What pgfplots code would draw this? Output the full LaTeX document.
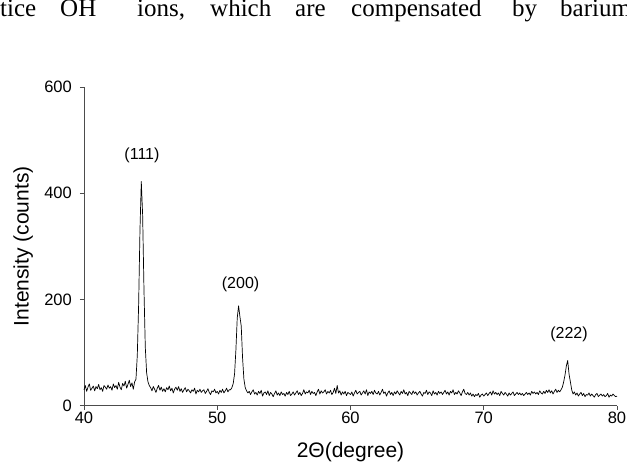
\documentclass[border=0pt]{standalone}
\usepackage{pgfplots}
\pgfplotsset{compat=1.18}
\usepackage{pgfplotstable}
\usepackage{fontspec}
\setmainfont{Liberation Sans}
\newfontfamily\seriffont{Liberation Serif}

\pgfplotstableread{
x y
40.0 30
40.1 38
40.2 27
40.3 35
40.4 41
40.5 29
40.6 33
40.7 37
40.8 28
40.9 36
41.0 32
41.1 40
41.2 30
41.3 34
41.4 27
41.5 38
41.6 35
41.7 31
41.8 39
41.9 33
42.0 36
42.1 29
42.2 41
42.3 34
42.4 38
42.5 31
42.6 44
42.7 35
42.8 30
42.9 42
43.0 37
43.1 46
43.2 33
43.3 40
43.4 48
43.5 36
43.6 43
43.7 31
43.8 45
43.9 50
44.0 95
44.1 190
44.2 330
44.3 422
44.4 360
44.5 220
44.6 110
44.7 62
44.8 45
44.9 38
45.0 34
45.1 28
45.2 36
45.3 31
45.4 25
45.5 33
45.6 38
45.7 29
45.8 35
45.9 27
46.0 32
46.1 26
46.2 34
46.3 30
46.4 37
46.5 28
46.6 33
46.7 24
46.8 31
46.9 35
47.0 29
47.1 36
47.2 27
47.3 32
47.4 25
47.5 30
47.6 34
47.7 26
47.8 31
47.9 28
48.0 24
48.1 30
48.2 27
48.3 33
48.4 22
48.5 29
48.6 26
48.7 31
48.8 25
48.9 28
49.0 30
49.1 23
49.2 27
49.3 32
49.4 25
49.5 21
49.6 28
49.7 26
49.8 31
49.9 24
50.0 27
50.1 22
50.2 29
50.3 25
50.4 31
50.5 24
50.6 28
50.7 33
50.8 26
50.9 30
51.0 30
51.1 34
51.2 42
51.3 60
51.4 105
51.5 165
51.6 188
51.7 168
51.8 150
51.9 90
52.0 50
52.1 34
52.2 28
52.3 24
52.4 27
52.5 21
52.6 26
52.7 30
52.8 22
52.9 25
53.0 20
53.1 27
53.2 23
53.3 29
53.4 18
53.5 24
53.6 26
53.7 21
53.8 28
53.9 19
54.0 25
54.1 22
54.2 17
54.3 23
54.4 28
54.5 20
54.6 24
54.7 19
54.8 26
54.9 21
55.0 23
55.1 18
55.2 25
55.3 21
55.4 27
55.5 19
55.6 22
55.7 26
55.8 20
55.9 24
56.0 28
56.1 21
56.2 25
56.3 19
56.4 23
56.5 30
56.6 22
56.7 26
56.8 24
56.9 29
57.0 21
57.1 27
57.2 23
57.3 25
57.4 19
57.5 26
57.6 31
57.7 22
57.8 28
57.9 24
58.0 26
58.1 30
58.2 22
58.3 27
58.4 24
58.5 29
58.6 21
58.7 25
58.8 33
58.9 23
59.0 38
59.1 24
59.2 28
59.3 20
59.4 26
59.5 22
59.6 27
59.7 19
59.8 25
59.9 23
60.0 21
60.1 26
60.2 18
60.3 24
60.4 29
60.5 22
60.6 25
60.7 27
60.8 20
60.9 24
61.0 28
61.1 22
61.2 30
61.3 19
61.4 26
61.5 23
61.6 27
61.7 21
61.8 29
61.9 24
62.0 22
62.1 27
62.2 20
62.3 25
62.4 31
62.5 23
62.6 26
62.7 18
62.8 24
62.9 28
63.0 21
63.1 25
63.2 19
63.3 26
63.4 22
63.5 28
63.6 24
63.7 20
63.8 27
63.9 23
64.0 30
64.1 22
64.2 25
64.3 19
64.4 27
64.5 24
64.6 21
64.7 28
64.8 23
64.9 26
65.0 20
65.1 24
65.2 27
65.3 22
65.4 18
65.5 25
65.6 23
65.7 29
65.8 21
65.9 26
66.0 24
66.1 19
66.2 28
66.3 22
66.4 25
66.5 20
66.6 27
66.7 23
66.8 26
66.9 21
67.0 25
67.1 29
67.2 22
67.3 26
67.4 20
67.5 27
67.6 24
67.7 30
67.8 21
67.9 25
68.0 22
68.1 28
68.2 24
68.3 19
68.4 26
68.5 31
68.6 23
68.7 21
68.8 25
68.9 20
69.0 24
69.1 18
69.2 22
69.3 17
69.4 21
69.5 19
69.6 23
69.7 16
69.8 20
69.9 22
70.0 18
70.1 21
70.2 24
70.3 19
70.4 23
70.5 26
70.6 20
70.7 28
70.8 22
70.9 25
71.0 21
71.1 24
71.2 19
71.3 27
71.4 23
71.5 20
71.6 25
71.7 22
71.8 18
71.9 24
72.0 20
72.1 23
72.2 26
72.3 19
72.4 22
72.5 25
72.6 21
72.7 24
72.8 20
72.9 23
73.0 19
73.1 22
73.2 25
73.3 21
73.4 24
73.5 20
73.6 27
73.7 23
73.8 26
73.9 22
74.0 25
74.1 21
74.2 28
74.3 24
74.4 22
74.5 27
74.6 23
74.7 29
74.8 25
74.9 30
75.0 24
75.1 28
75.2 22
75.3 27
75.4 31
75.5 25
75.6 29
75.7 26
75.8 30
75.9 35
76.0 45
76.1 58
76.2 75
76.3 85
76.4 60
76.5 45
76.6 30
76.7 22
76.8 26
76.9 20
77.0 24
77.1 18
77.2 22
77.3 25
77.4 19
77.5 23
77.6 17
77.7 21
77.8 20
77.9 24
78.0 18
78.1 22
78.2 19
78.3 16
78.4 21
78.5 23
78.6 17
78.7 20
78.8 22
78.9 18
79.0 21
79.1 17
79.2 19
79.3 23
79.4 16
79.5 20
79.6 18
79.7 22
79.8 19
79.9 17
80.0 18
}\xrd

\begin{document}
\begin{tikzpicture}
\useasboundingbox (0,0) rectangle (627pt,462pt);
% running text of the page above the figure
\begin{scope}[every node/.style={anchor=base west, inner sep=0pt, font=\seriffont\fontsize{25}{30}\selectfont}]
\node at (0pt,445pt) {tice};
\node at (60pt,445pt) {OH};
\node at (137pt,445pt) {ions,};
\node at (210pt,445pt) {which};
\node at (295pt,445pt) {are};
\node at (351pt,445pt) {compensated};
\node at (512pt,445pt) {by};
\node at (560pt,445pt) {barium};
\end{scope}
\begin{axis}[
  at={(84pt,56.3pt)}, anchor=south west,
  scale only axis, width=533pt, height=318.7pt,
  xmin=40, xmax=80, ymin=0, ymax=600,
  axis x line*=bottom, axis y line*=left,
  axis line style={black!70, line width=0.9pt},
  xtick={40,50,60,70,80}, ytick={0,200,400,600},
  tick align=outside, major tick length=4pt,
  tick style={black!70, line width=0.9pt},
  /pgf/number format/assume math mode=true,
  ticklabel style={font=\fontsize{16.5}{19}\selectfont},
  xticklabel style={inner sep=0pt, yshift=-2pt},
  yticklabel style={inner sep=0pt, xshift=-8pt},
  xlabel={2Θ(degree)}, ylabel={Intensity (counts)},
  label style={font=\fontsize{21}{25}\selectfont},
  xlabel style={at={(axis description cs:0.5,-0.164)}, anchor=base},
  ylabel style={at={(axis description cs:-0.114,0.5)}, anchor=center},
  clip=false,
]
\addplot[black, line width=0.7pt, line join=round] table[x=x, y=y] {\xrd};
\node[font=\fontsize{16}{19}\selectfont] at (axis cs:44.35,472) {(111)};
\node[font=\fontsize{16}{19}\selectfont] at (axis cs:51.75,229) {(200)};
\node[font=\fontsize{16}{19}\selectfont] at (axis cs:76.4,135) {(222)};
\end{axis}
\end{tikzpicture}
\end{document}
